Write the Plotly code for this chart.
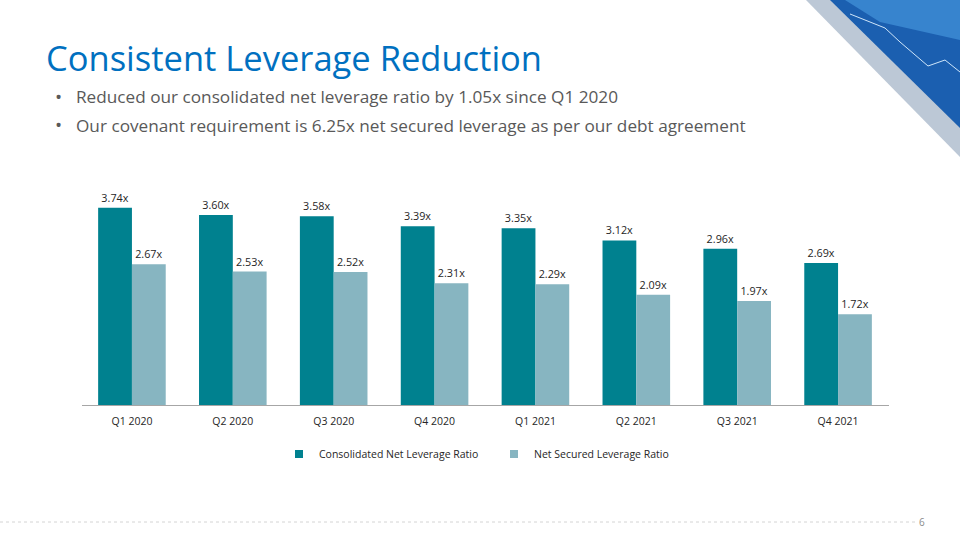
import plotly.graph_objects as go

quarters = ['Q1 2020', 'Q2 2020', 'Q3 2020', 'Q4 2020',
            'Q1 2021', 'Q2 2021', 'Q3 2021', 'Q4 2021']
consolidated = [3.74, 3.60, 3.58, 3.39, 3.35, 3.12, 2.96, 2.69]
secured = [2.67, 2.53, 2.52, 2.31, 2.29, 2.09, 1.97, 1.72]
series_names = ['Consolidated Net Leverage Ratio', 'Net Secured Leverage Ratio']
series_colors = ['#00818F', '#87B5C1']

title = 'Consistent Leverage Reduction'
bullets = ['Reduced our consolidated net leverage ratio by 1.05x since Q1 2020',
           'Our covenant requirement is 6.25x net secured leverage as per our debt agreement']

W, H = 960, 540
FONT = 'Open Sans'


def px(x):
    return x / W


def py(y):
    return 1 - y / H


fig = go.Figure()
for vals, name, col in zip([consolidated, secured], series_names, series_colors):
    fig.add_trace(go.Bar(x=quarters, y=vals, name=name, marker_color=col, marker_line_width=0,
                         text=[f'{v:.2f}x' for v in vals], textposition='outside',
                         textfont=dict(family=FONT, size=10.8, color='#262626'),
                         cliponaxis=False, showlegend=False))
    # small square legend keys like the slide
    fig.add_trace(go.Scatter(x=[None], y=[None], mode='markers', name=name,
                             marker=dict(symbol='square', size=8, color=col)))

# page decoration (top right corner)
shapes = [
    dict(type='path', xref='paper', yref='paper', line_width=0, fillcolor='#BCC8D6',
         path=f'M {px(806)} {py(0)} L {px(960)} {py(0)} L {px(960)} {py(157)} Z'),
    dict(type='path', xref='paper', yref='paper', line_width=0, fillcolor='#1B5FB0',
         path=f'M {px(830)} {py(0)} L {px(960)} {py(0)} L {px(960)} {py(128)} Z'),
    dict(type='path', xref='paper', yref='paper', line_width=0, fillcolor='#4FA3E8', opacity=0.55,
         path=f'M {px(845)} {py(0)} L {px(960)} {py(0)} L {px(960)} {py(40)} L {px(880)} {py(22)} Z'),
    dict(type='path', xref='paper', yref='paper', line=dict(color='#CFE6FA', width=1),
         path=(f'M {px(850)} {py(14)} L {px(885)} {py(28)} L {px(900)} {py(42)} '
               f'L {px(928)} {py(66)} L {px(945)} {py(60)} L {px(960)} {py(72)}')),
    dict(type='line', xref='paper', yref='paper', line=dict(color='#D4D4D4', width=1, dash='dot'),
         x0=px(0), x1=px(915), y0=py(522), y1=py(522)),
]

annotations = [
    dict(text=title, x=px(44), y=py(58), xref='paper', yref='paper', xanchor='left',
         yanchor='middle', showarrow=False, font=dict(family=FONT, size=34.5, color='#0070C0')),
    dict(text='6', x=px(927), y=py(522), xref='paper', yref='paper', yanchor='middle',
         showarrow=False, font=dict(family=FONT, size=10, color='#8C8C8C')),
]
for i, b in enumerate(bullets):
    y = 97 + 28 * i
    annotations.append(dict(text='•', x=px(53), y=py(y), xref='paper', yref='paper',
                            yanchor='middle', showarrow=False,
                            font=dict(family=FONT, size=19, color='#595959')))
    annotations.append(dict(text=b, x=px(74), y=py(y), xref='paper', yref='paper',
                            xanchor='left', yanchor='middle', showarrow=False,
                            font=dict(family=FONT, size=17.2, color='#595959')))

fig.update_layout(
    width=W, height=H,
    margin=dict(l=0, r=0, t=0, b=0),
    paper_bgcolor='white', plot_bgcolor='white',
    barmode='group', bargap=0.33, bargroupgap=0,
    font=dict(family=FONT, size=10.5, color='#262626'),
    xaxis=dict(domain=[px(81.5), px(888.5)], showline=True, linecolor='#A6A6A6',
               ticks='', showgrid=False, ticklabelstandoff=6,
               tickfont=dict(size=10.5, color='#262626')),
    yaxis=dict(domain=[py(405), py(194)], range=[0, 4], visible=False),
    legend=dict(orientation='h', x=px(279), xanchor='left', y=py(454), yanchor='middle',
                font=dict(size=10.5, color='#262626'), itemwidth=30, tracegroupgap=0,
                entrywidth=170, entrywidthmode='pixels'),
    shapes=shapes,
    annotations=annotations,
)

fig.write_html('out.html', config={'displayModeBar': False},
               post_script="document.body.style.margin='0';")
